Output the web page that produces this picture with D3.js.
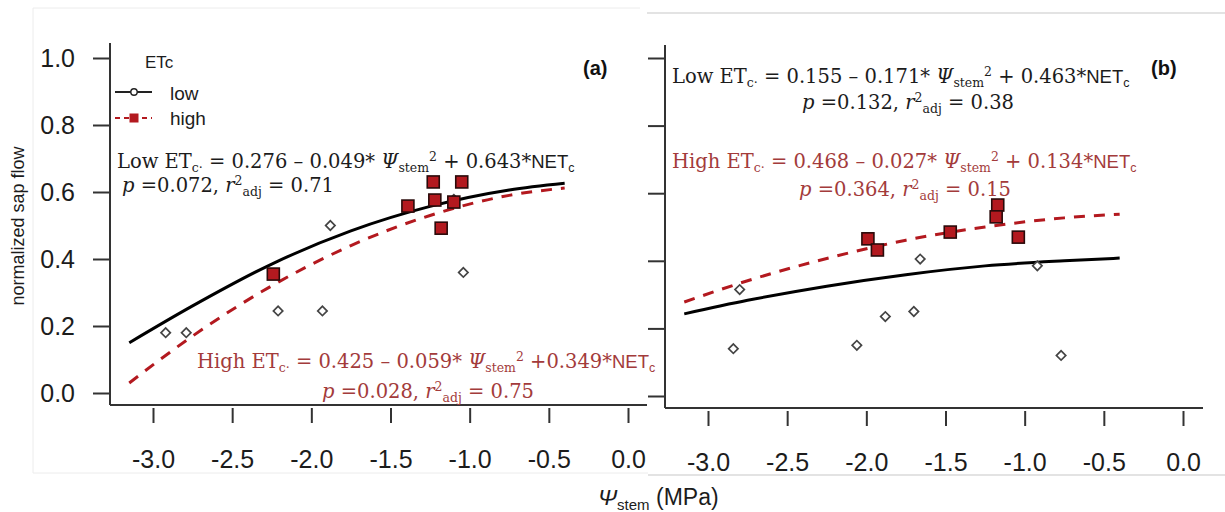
<!DOCTYPE html>
<html>
<head>
<meta charset="utf-8">
<script src="https://cdn.jsdelivr.net/npm/d3@7"></script>
<style>
  body { margin: 0; background: #fff; }
</style>
</head>
<body>
<svg id="chart" width="1225" height="512"></svg>
<script>
// tick values shared by both panels
const xTicks = [-3.0, -2.5, -2.0, -1.5, -1.0, -0.5, 0.0];
const yTicks = [0.0, 0.2, 0.4, 0.6, 0.8, 1.0];

// panel (a) observations
const lowA_x = [-2.92, -2.79, -2.21, -1.93, -1.88, -1.10, -1.04];
const lowA_y = [0.18, 0.18, 0.245, 0.245, 0.50, 0.578, 0.36];
const highA_x = [-2.24, -1.39, -1.23, -1.22, -1.18, -1.10, -1.05];
const highA_y = [0.355, 0.558, 0.630, 0.576, 0.492, 0.570, 0.630];

// panel (a) fitted curves
const fitA_x = [-3.15, -2.75, -2.25, -1.75, -1.25, -0.75, -0.40];
const lowFitA = [0.15, 0.26, 0.385, 0.484, 0.557, 0.606, 0.626];
const highFitA = [0.03, 0.17, 0.32, 0.44, 0.53, 0.59, 0.612];

// panel (b) observations
const lowB_x = [-2.84, -2.80, -2.06, -1.88, -1.70, -1.66, -0.92, -0.77];
const lowB_y = [0.14, 0.315, 0.15, 0.235, 0.25, 0.405, 0.385, 0.12];
const highB_x = [-1.99, -1.93, -1.47, -1.17, -1.18, -1.04];
const highB_y = [0.465, 0.432, 0.485, 0.565, 0.53, 0.47];

// panel (b) fitted curves
const fitB_x = [-3.15, -2.75, -2.25, -1.75, -1.25, -0.75, -0.40];
const lowFitB = [0.243, 0.283, 0.325, 0.359, 0.385, 0.40, 0.408];
const highFitB = [0.278, 0.341, 0.407, 0.461, 0.50, 0.527, 0.538];

const RED = '#b3191f';
const TXT_RED = '#a33b3b';
const INK = '#1c1c1c';
const SERIF = "'DejaVu Serif', 'Liberation Serif', serif";
const SANS = "Arial, 'Liberation Sans', sans-serif";

const svg = d3.select('#chart');

// faint picture frames
svg.append('path').attr('d', 'M33,8H640M33,8V473H648')
  .attr('fill', 'none').attr('stroke', '#ececec').attr('stroke-width', 1);
svg.append('path').attr('d', 'M647,13H1225M648,475H1225')
  .attr('fill', 'none').attr('stroke', '#c8c8c8').attr('stroke-width', 1.2);

function zip(xs, ys) {
  return xs.map((v, i) => [v, ys[i]]);
}

// equation writer: segments with sub/sup/italic parts
function equation(g, x, y, segs, color, fs) {
  const t = g.append('text')
    .attr('x', x).attr('y', y)
    .attr('font-family', SERIF)
    .attr('font-size', fs)
    .attr('fill', color);
  let shift = 0;
  segs.forEach((s) => {
    const target = s.sub ? fs * 0.22 : s.sup ? -fs * 0.34 : 0;
    const ts = t.append('tspan').attr('dy', target - shift).text(s.t);
    shift = target;
    if (s.sub || s.sup) ts.attr('font-size', fs * 0.64);
    if (s.i) ts.attr('font-style', 'italic');
    if (s.sans) ts.attr('font-family', SANS).attr('font-size', s.sub ? fs * 0.64 : fs * 0.95);
  });
}

function eqSegs(head, a, b, c, plusGap) {
  return [
    { t: head + 'ET' }, { t: 'c·', sub: 1 },
    { t: ' = ' + a + ' – ' + b + '* ' }, { t: 'Ψ', i: 1 },
    { t: 'stem', sub: 1 }, { t: '2', sup: 1 },
    { t: (plusGap ? ' + ' : ' +') + c + '*' }, { t: 'NET', sans: 1 }, { t: 'c', sub: 1, sans: 1 },
  ];
}

function pSegs(p, r) {
  return [
    { t: 'p', i: 1 }, { t: ' =' + p + ', ' }, { t: 'r', i: 1 },
    { t: '2', sup: 1 }, { t: 'adj', sub: 1 }, { t: ' = ' + r },
  ];
}

function panel(opt) {
  const g = svg.append('g');
  const x = d3.scaleLinear().domain([-3, 0]).range(opt.xr);
  const y = d3.scaleLinear().domain([0, 1]).range(opt.yr);

  // axis lines
  g.append('line')
    .attr('x1', opt.axX).attr('x2', opt.axX)
    .attr('y1', opt.axTop).attr('y2', opt.axY)
    .attr('stroke', '#333').attr('stroke-width', 2);
  g.append('line')
    .attr('x1', opt.axX).attr('x2', opt.axRight)
    .attr('y1', opt.axY).attr('y2', opt.axY)
    .attr('stroke', '#333').attr('stroke-width', 2);

  const yAxis = g.append('g')
    .attr('transform', `translate(${opt.axX},0)`)
    .call(d3.axisLeft(y).tickValues(yTicks).tickSize(17).tickPadding(18)
      .tickFormat((d) => d.toFixed(1)));
  yAxis.select('.domain').remove();
  yAxis.selectAll('line').attr('stroke', '#333').attr('stroke-width', 2);
  yAxis.selectAll('text')
    .attr('font-family', SANS).attr('font-size', 25).attr('fill', INK)
    .style('display', opt.yLabels ? null : 'none');

  const xAxis = g.append('g')
    .attr('transform', `translate(0,${opt.axY + 3})`)
    .call(d3.axisBottom(x).tickValues(xTicks).tickSize(15).tickPadding(27)
      .tickFormat((d) => d.toFixed(1)));
  xAxis.select('.domain').remove();
  xAxis.selectAll('line').attr('stroke', '#333').attr('stroke-width', 2);
  xAxis.selectAll('text')
    .attr('font-family', SANS).attr('font-size', 25).attr('fill', INK);

  const line = d3.line().x((d) => x(d[0])).y((d) => y(d[1])).curve(d3.curveMonotoneX);

  g.append('path')
    .datum(zip(opt.fitX, opt.lowFit))
    .attr('d', line)
    .attr('fill', 'none').attr('stroke', '#000').attr('stroke-width', 3);
  g.append('path')
    .datum(zip(opt.fitX, opt.highFit))
    .attr('d', line)
    .attr('fill', 'none').attr('stroke', RED).attr('stroke-width', 3)
    .attr('stroke-dasharray', '11,9');

  // low ETc: open diamonds
  g.selectAll('.lowPt')
    .data(zip(opt.lowX, opt.lowY))
    .enter().append('path')
    .attr('class', 'lowPt')
    .attr('d', d3.symbol().type(d3.symbolSquare).size(44))
    .attr('transform', (d) => `translate(${x(d[0])},${y(d[1])})rotate(45)`)
    .attr('fill', '#fff').attr('stroke', '#444').attr('stroke-width', 1.7);

  // high ETc: filled squares
  g.selectAll('.highPt')
    .data(zip(opt.highX, opt.highY))
    .enter().append('rect')
    .attr('class', 'highPt')
    .attr('x', (d) => x(d[0]) - 6).attr('y', (d) => y(d[1]) - 6)
    .attr('width', 12).attr('height', 12)
    .attr('fill', RED).attr('stroke', '#2a0a0a').attr('stroke-width', 1.6);

  g.append('text')
    .attr('x', opt.tag[0]).attr('y', opt.tag[1])
    .attr('font-family', SANS).attr('font-weight', 'bold').attr('font-size', 20)
    .attr('fill', '#111')
    .text(opt.tagText);

  return g;
}

const gA = panel({
  xr: [153, 628], yr: [393, 58],
  axX: 110, axY: 405, axTop: 43, axRight: 647,
  yLabels: true,
  fitX: fitA_x, lowFit: lowFitA, highFit: highFitA,
  lowX: lowA_x, lowY: lowA_y, highX: highA_x, highY: highA_y,
  tag: [583, 75], tagText: '(a)',
});

const gB = panel({
  xr: [708, 1183], yr: [396, 58],
  axX: 665, axY: 408, axTop: 45, axRight: 1203,
  yLabels: false,
  fitX: fitB_x, lowFit: lowFitB, highFit: highFitB,
  lowX: lowB_x, lowY: lowB_y, highX: highB_x, highY: highB_y,
  tag: [1151, 75], tagText: '(b)',
});

// legend, panel (a)
const leg = svg.append('g').attr('font-family', SANS).attr('fill', INK);
leg.append('text').attr('x', 145).attr('y', 68).attr('font-size', 17).text('ETc');
leg.append('line').attr('x1', 115).attr('x2', 152).attr('y1', 92).attr('y2', 92)
  .attr('stroke', '#222').attr('stroke-width', 2);
leg.append('circle').attr('cx', 134).attr('cy', 92).attr('r', 3.2)
  .attr('fill', '#fff').attr('stroke', '#222').attr('stroke-width', 1.4);
leg.append('text').attr('x', 170).attr('y', 100).attr('font-size', 19).text('low');
leg.append('line').attr('x1', 115).attr('x2', 152).attr('y1', 118).attr('y2', 118)
  .attr('stroke', RED).attr('stroke-width', 2).attr('stroke-dasharray', '5,4');
leg.append('rect').attr('x', 129.5).attr('y', 113.5).attr('width', 9).attr('height', 9)
  .attr('fill', RED);
leg.append('text').attr('x', 170).attr('y', 125).attr('font-size', 19).text('high');

// equations
const EQ = 19.5;
equation(gA, 117, 168, eqSegs('Low ', '0.276', '0.049', '0.643', true), INK, EQ);
equation(gA, 122, 192, pSegs('0.072', '0.71'), INK, EQ);
equation(gA, 197, 368, eqSegs('High  ', '0.425', '0.059', '0.349', false), TXT_RED, EQ);
equation(gA, 322, 398, pSegs('0.028', '0.75'), TXT_RED, EQ);

equation(gB, 672, 83, eqSegs('Low ', '0.155', '0.171', '0.463', true), INK, EQ);
equation(gB, 802, 109, pSegs('0.132', '0.38'), INK, EQ);
equation(gB, 672, 168, eqSegs('High  ', '0.468', '0.027', '0.134', true), TXT_RED, EQ);
equation(gB, 799, 196, pSegs('0.364', '0.15'), TXT_RED, EQ);

// axis titles
const xt = svg.append('text')
  .attr('x', 598).attr('y', 505)
  .attr('font-family', SANS).attr('font-size', 23).attr('fill', INK);
xt.append('tspan').attr('font-style', 'italic').text('Ψ');
xt.append('tspan').attr('font-size', 15).attr('dy', 5).text('stem');
xt.append('tspan').attr('dy', -5).text(' (MPa)');

svg.append('text')
  .attr('transform', 'translate(24,226)rotate(-90)')
  .attr('text-anchor', 'middle')
  .attr('font-family', SANS).attr('font-size', 18).attr('fill', INK)
  .text('normalized sap flow');
</script>
</body>
</html>
